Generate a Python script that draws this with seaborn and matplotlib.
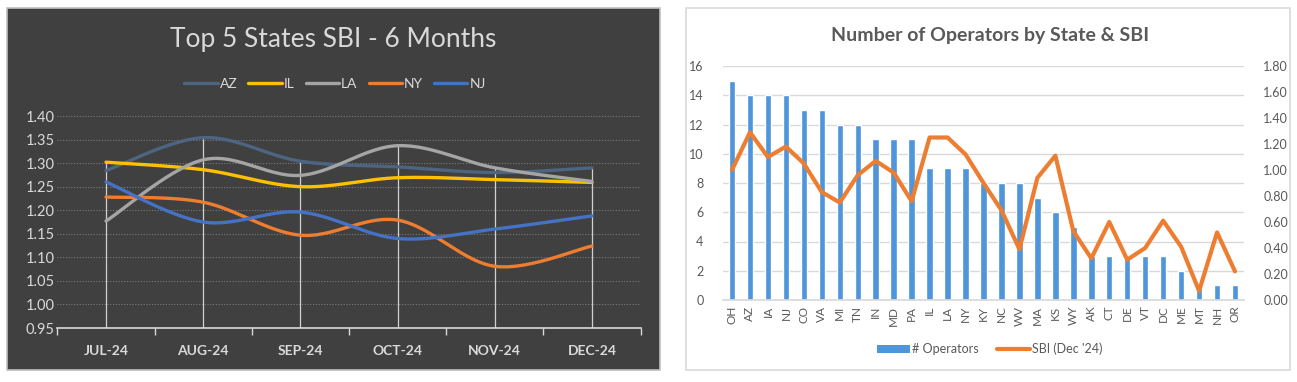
import numpy as np
import pandas as pd
import matplotlib
matplotlib.use("Agg")
import matplotlib.pyplot as plt
from matplotlib.patches import Rectangle
from matplotlib.lines import Line2D
from matplotlib.patches import Patch
import seaborn as sns

# ---------------- data ----------------
months = ["JUL-24", "AUG-24", "SEP-24", "OCT-24", "NOV-24", "DEC-24"]
sbi_AZ = [1.284, 1.354, 1.304, 1.292, 1.280, 1.290]
sbi_IL = [1.302, 1.286, 1.250, 1.269, 1.265, 1.259]
sbi_LA = [1.177, 1.307, 1.274, 1.337, 1.290, 1.261]
sbi_NY = [1.228, 1.217, 1.147, 1.179, 1.081, 1.124]
sbi_NJ = [1.260, 1.175, 1.196, 1.140, 1.160, 1.188]
top_states = ["AZ", "IL", "LA", "NY", "NJ"]

states = ["OH", "AZ", "IA", "NJ", "CO", "VA", "MI", "TN", "IN", "MD", "PA", "IL", "LA",
          "NY", "KY", "NC", "WV", "MA", "KS", "WY", "AK", "CT", "DE", "VT", "DC", "ME",
          "MT", "NH", "OR"]
operators = [15, 14, 14, 14, 13, 13, 12, 12, 11, 11, 11, 9, 9, 9, 8, 8, 8, 7, 6, 5, 3, 3,
             3, 3, 3, 2, 1, 1, 1]
sbi_dec = [1.00, 1.29, 1.10, 1.18, 1.05, 0.83, 0.75, 0.96, 1.07, 0.98, 0.76, 1.25, 1.25,
           1.12, 0.90, 0.69, 0.39, 0.94, 1.11, 0.53, 0.32, 0.60, 0.31, 0.40, 0.61, 0.41,
           0.07, 0.52, 0.22]

# ---------------- style ----------------
sns.set_theme(style="white")
plt.rcParams["font.family"] = ["Lato", "DejaVu Sans"]

W, H = 1297, 382
fig = plt.figure(figsize=(W / 100, H / 100), dpi=100)
fig.patch.set_facecolor("white")

def fx(px):
    return px / W

def fy(py):
    return 1 - py / H

# panel backgrounds
fig.patches.append(Rectangle((fx(7), fy(370)), fx(653), (362) / H, transform=fig.transFigure,
                             facecolor="#404040", edgecolor="#bfbfbf", lw=1.2, zorder=-10))
fig.patches.append(Rectangle((fx(686), fy(370)), fx(604), (362) / H, transform=fig.transFigure,
                             facecolor="white", edgecolor="#d9d9d9", lw=1.2, zorder=-10))

# ---------------- left chart ----------------
colors_top = {"AZ": "#4d6580", "IL": "#FFC000", "LA": "#A5A5A5", "NY": "#ED7D31", "NJ": "#4472C4"}
series = {"AZ": sbi_AZ, "IL": sbi_IL, "LA": sbi_LA, "NY": sbi_NY, "NJ": sbi_NJ}

def smooth(xs, ys, n=30):
    # Excel-style smoothed line (Catmull-Rom Bezier through the data points)
    P = np.column_stack([xs, ys]).astype(float)
    Pp = np.vstack([P[0], P, P[-1]])
    out = []
    t = np.linspace(0, 1, n)[:, None]
    for i in range(len(P) - 1):
        p0, p1, p2, p3 = Pp[i], Pp[i + 1], Pp[i + 2], Pp[i + 3]
        c1 = p1 + (p2 - p0) / 6
        c2 = p2 - (p3 - p1) / 6
        seg = ((1 - t) ** 3) * p1 + 3 * ((1 - t) ** 2) * t * c1 + 3 * (1 - t) * t ** 2 * c2 + t ** 3 * p2
        out.append(seg if i == 0 else seg[1:])
    return np.vstack(out)

rows = []
for s in top_states:
    pts = smooth(np.arange(len(months)), series[s])
    for k, (xx, yy) in enumerate(pts):
        rows.append({"x": xx, "y": yy, "state": s, "order": k})
df_top = pd.DataFrame(rows)

ax1 = fig.add_axes([fx(57.4), fy(328), fx(583.2), (328 - 116) / H])
ax1.set_zorder(2)
ax1.set_facecolor("#404040")
ax1.set_xlim(-0.5, 5.5)
ax1.set_ylim(0.95, 1.40)
yt = np.round(np.arange(0.95, 1.401, 0.05), 2)
ax1.set_yticks(yt)
ax1.set_yticklabels([f"{v:.2f}" for v in yt], color="#d9d9d9", fontsize=10.5)
for v in yt[1:]:
    ax1.axhline(v, color="#7a7a7a", lw=0.8, ls=(0, (1, 1.5)), zorder=1)

# drop lines
maxes = np.max(np.array([series[s] for s in top_states]), axis=0)
ax1.vlines(np.arange(len(months)), 0.95, maxes, color="#d0d0d0", lw=0.9, zorder=2)

sns.lineplot(data=df_top, x="x", y="y", hue="state", hue_order=top_states, palette=colors_top,
             sort=False, estimator=None, units="state", lw=2.4, ax=ax1, legend=False, zorder=3)

ax1.set_xticks(np.arange(len(months)))
ax1.set_xticklabels(months, color="#d9d9d9", fontsize=10, fontweight="bold")
ax1.set_xticks(np.arange(-0.5, 5.6, 1), minor=True)
ax1.tick_params(axis="x", which="major", length=0, pad=12)
ax1.tick_params(axis="x", which="minor", length=5, color="#d9d9d9", width=1, bottom=True)
ax1.tick_params(axis="y", length=0, pad=2)
ax1.set_xlabel("")
ax1.set_ylabel("")
for sp in ["top", "right", "left"]:
    ax1.spines[sp].set_visible(False)
ax1.spines["bottom"].set_color("#d9d9d9")
ax1.spines["bottom"].set_linewidth(1.2)

fig.text(fx(333), fy(40), "Top 5 States SBI - 6 Months", ha="center", va="center",
         color="#d9d9d9", fontsize=19)
handles1 = [Line2D([0], [0], color=colors_top[s], lw=2.4) for s in top_states]
leg1 = fig.legend(handles1, top_states, loc="center", bbox_to_anchor=(fx(335), fy(84)), ncol=5,
                  frameon=False, fontsize=10, handlelength=2.4, handletextpad=0.15,
                  columnspacing=0.8, labelcolor="#d9d9d9")

# ---------------- right chart ----------------
df_ops = pd.DataFrame({"state": states, "operators": operators, "sbi": sbi_dec,
                       "pos": np.arange(len(states))})

ax2 = fig.add_axes([fx(723), fy(300), fx(521), (300 - 66) / H])
ax2.set_zorder(2)
ax2.set_facecolor("none")
sns.barplot(data=df_ops, x="state", y="operators", order=states, color="#4e95da",
            width=0.36, ax=ax2, zorder=2, saturation=1)
ax2.set_xlim(-0.5, len(states) - 0.5)
ax2.set_ylim(0, 16)
ax2.set_yticks(np.arange(0, 17, 2))
ax2.set_yticklabels([str(v) for v in range(0, 17, 2)], color="#595959", fontsize=9)
ax2.yaxis.grid(True, color="#d9d9d9", lw=1)
ax2.set_axisbelow(True)
ax2.set_xticks(np.arange(len(states)))
ax2.set_xticklabels(states, rotation=90, color="#595959", fontsize=8.5)
ax2.tick_params(axis="both", length=0)
ax2.tick_params(axis="y", pad=14)
ax2.tick_params(axis="x", pad=4)
ax2.set_xlabel("")
ax2.set_ylabel("")
for sp in ["top", "right", "left"]:
    ax2.spines[sp].set_visible(False)
ax2.spines["bottom"].set_color("#d9d9d9")

ax3 = ax2.twinx()
ax3.set_zorder(3)
sns.lineplot(data=df_ops, x="pos", y="sbi", color="#ED7D31", lw=3.0, ax=ax3,
             sort=False, estimator=None, zorder=3)
ax3.set_ylim(0, 1.8)
yt3 = np.round(np.arange(0, 1.81, 0.2), 2)
ax3.set_yticks(yt3)
ax3.set_yticklabels([f"{v:.2f}" for v in yt3], color="#595959", fontsize=9)
ax3.tick_params(axis="y", length=0, pad=14)
ax3.set_xlim(-0.5, len(states) - 0.5)
ax3.set_ylabel("")
ax3.set_xlabel("")
for sp in ["top", "right", "left", "bottom"]:
    ax3.spines[sp].set_visible(False)

fig.text(fx(990), fy(35), "Number of Operators by State & SBI", ha="center", va="center",
         color="#595959", fontsize=14, fontweight="bold")
handles2 = [Patch(facecolor="#4e95da", edgecolor="none"),
            Line2D([0], [0], color="#ED7D31", lw=3.0)]
fig.legend(handles2, ["# Operators", "SBI (Dec '24)"], loc="center",
           bbox_to_anchor=(fx(990), fy(349)), ncol=2, frameon=False, fontsize=9,
           handlelength=2.6, handleheight=0.7, handletextpad=0.2, columnspacing=1.5,
           labelcolor="#595959")

fig.savefig("out.png", dpi=100, facecolor="white")
